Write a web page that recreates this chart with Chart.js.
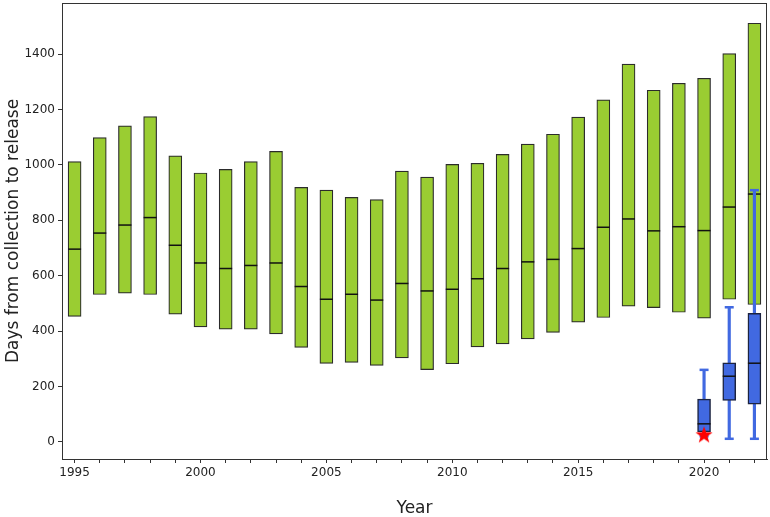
<!DOCTYPE html>
<html>
<head>
<meta charset="utf-8">
<script src="https://cdn.jsdelivr.net/npm/chart.js@4/dist/chart.umd.min.js"></script>
<style>
  html, body { margin: 0; padding: 0; background: #fff; }
  #wrap { width: 770px; height: 517px; }
</style>
</head>
<body>
<div id="wrap"><canvas id="chart" width="770" height="517"></canvas></div>
<script>
const years = [1995, 1996, 1997, 1998, 1999, 2000, 2001, 2002, 2003, 2004, 2005, 2006, 2007, 2008,
  2009, 2010, 2011, 2012, 2013, 2014, 2015, 2016, 2017, 2018, 2019, 2020, 2021, 2022];

// green ranges: min / median / max per year
const greenMin = [453, 532, 537, 532, 461, 415, 407, 407, 390, 341, 283, 287, 276, 303,
  261, 282, 343, 354, 372, 395, 432, 449, 490, 485, 468, 447, 515, 496];
const greenMed = [696, 754, 783, 810, 710, 646, 626, 637, 646, 561, 515, 533, 512, 572,
  545, 551, 589, 626, 650, 659, 698, 775, 805, 762, 777, 763, 848, 895];
const greenMax = [1012, 1099, 1141, 1175, 1033, 971, 984, 1012, 1049, 919, 909, 883, 875, 978,
  956, 1002, 1006, 1038, 1075, 1111, 1173, 1235, 1364, 1270, 1295, 1313, 1402, 1512];

// blue box plots for the last three years
const boxYears = [2020, 2021, 2022];
const boxLow = [20, 11, 11];
const boxQ1 = [36, 150, 136];
const boxMed = [65, 237, 284];
const boxQ3 = [154, 285, 464];
const boxHigh = [260, 486, 909];

const starYear = 2020;
const starValue = 27;

const yTicks = [0, 200, 400, 600, 800, 1000, 1200, 1400];

function byYear(list, vals) {
  return years.map((y) => {
    const i = list.indexOf(y);
    return i < 0 ? null : vals(i);
  });
}

function makeStar(r) {
  const c = document.createElement("canvas");
  const size = Math.ceil(r * 2 + 2);
  c.width = size;
  c.height = size;
  const ctx = c.getContext("2d");
  const cx = size / 2;
  const cy = size / 2 + r * 0.1;
  ctx.beginPath();
  for (let k = 0; k < 10; k++) {
    const rad = k % 2 === 0 ? r : r * 0.4;
    const a = -Math.PI / 2 + (k * Math.PI) / 5;
    const px = cx + rad * Math.cos(a);
    const py = cy + rad * Math.sin(a);
    if (k === 0) ctx.moveTo(px, py);
    else ctx.lineTo(px, py);
  }
  ctx.closePath();
  ctx.fillStyle = "#ff0000";
  ctx.fill();
  return c;
}

const frame = {
  id: "frame",
  afterDraw(chart) {
    const { ctx, chartArea: a } = chart;
    ctx.save();
    ctx.strokeStyle = "#333";
    ctx.lineWidth = 1;
    ctx.strokeRect(Math.round(a.left) + 0.5, Math.round(a.top) + 0.5,
      Math.round(a.right - a.left) - 1, Math.round(a.bottom - a.top));
    ctx.restore();
  },
};

function noPad(scale) {
  scale.paddingLeft = 0;
  scale.paddingRight = 0;
  scale.paddingTop = 0;
  scale.paddingBottom = 0;
}

const BLUE = "#4169e1";
const GREEN = "#9acd32";

function pointSet(data, color, radius, width, order, style) {
  return {
    type: "line",
    data,
    showLine: false,
    pointStyle: style || "line",
    pointRadius: radius,
    pointHoverRadius: radius,
    pointBorderColor: color,
    pointBackgroundColor: color,
    pointBorderWidth: width,
    order,
  };
}

Chart.defaults.font.family = "'DejaVu Sans', sans-serif";
Chart.defaults.font.size = 12;
Chart.defaults.color = "#222";

new Chart(document.getElementById("chart"), {
  type: "bar",
  data: {
    labels: years.map(String),
    datasets: [
      {
        data: years.map((_, i) => [greenMin[i], greenMax[i]]),
        backgroundColor: GREEN,
        borderColor: "#2b2b2b",
        borderWidth: 1.2,
        borderSkipped: false,
        barThickness: 13,
        grouped: false,
        order: 6,
      },
      pointSet(greenMed, "#111", 6.5, 1.5, 5),
      {
        data: byYear(boxYears, (i) => [boxLow[i], boxHigh[i]]),
        backgroundColor: BLUE,
        borderWidth: 0,
        barThickness: 2.5,
        grouped: false,
        order: 4,
      },
      pointSet(byYear(boxYears, (i) => boxLow[i]), BLUE, 4.5, 2.5, 3),
      pointSet(byYear(boxYears, (i) => boxHigh[i]), BLUE, 4.5, 2.5, 3),
      {
        data: byYear(boxYears, (i) => [boxQ1[i], boxQ3[i]]),
        backgroundColor: BLUE,
        borderColor: "#1c2340",
        borderWidth: 1.5,
        borderSkipped: false,
        barThickness: 13,
        grouped: false,
        order: 2,
      },
      pointSet(byYear(boxYears, (i) => boxMed[i]), "#111", 6.5, 1.5, 1),
      pointSet(years.map((y) => (y === starYear ? starValue : null)), "#ff0000", 9, 0, 0, makeStar(9)),
    ],
  },
  options: {
    responsive: false,
    devicePixelRatio: 1,
    animation: false,
    events: [],
    layout: { autoPadding: false, padding: { top: 3, right: 3, left: 0, bottom: 0 } },
    plugins: { legend: { display: false }, tooltip: { enabled: false } },
    scales: {
      x: {
        offset: true,
        grid: { display: true, drawOnChartArea: false, drawTicks: true, tickLength: 4, offset: false, color: "#333" },
        border: { display: true, color: "#333" },
        ticks: {
          autoSkip: false,
          maxRotation: 0,
          padding: 3,
          callback: (v, i) => (years[i] % 5 === 0 ? String(years[i]) : ""),
        },
        title: { display: true, text: "Year", font: { size: 17, lineHeight: 1 }, padding: { top: 0, bottom: 0 } },
        afterFit: (scale) => { scale.height = 58; noPad(scale); },
      },
      y: {
        min: -62,
        max: 1585,
        grid: { display: true, drawOnChartArea: false, drawTicks: true, tickLength: 4, color: "#333" },
        border: { display: true, color: "#333" },
        ticks: { padding: 3, callback: (v) => String(v) },
        afterBuildTicks: (scale) => { scale.ticks = yTicks.map((v) => ({ value: v })); },
        title: {
          display: true,
          text: "Days from collection to release",
          font: { size: 17, lineHeight: 1 },
          padding: { top: 5, bottom: 0 },
        },
        afterFit: (scale) => { scale.width = 62; noPad(scale); },
      },
    },
  },
  plugins: [frame],
});
</script>
</body>
</html>
